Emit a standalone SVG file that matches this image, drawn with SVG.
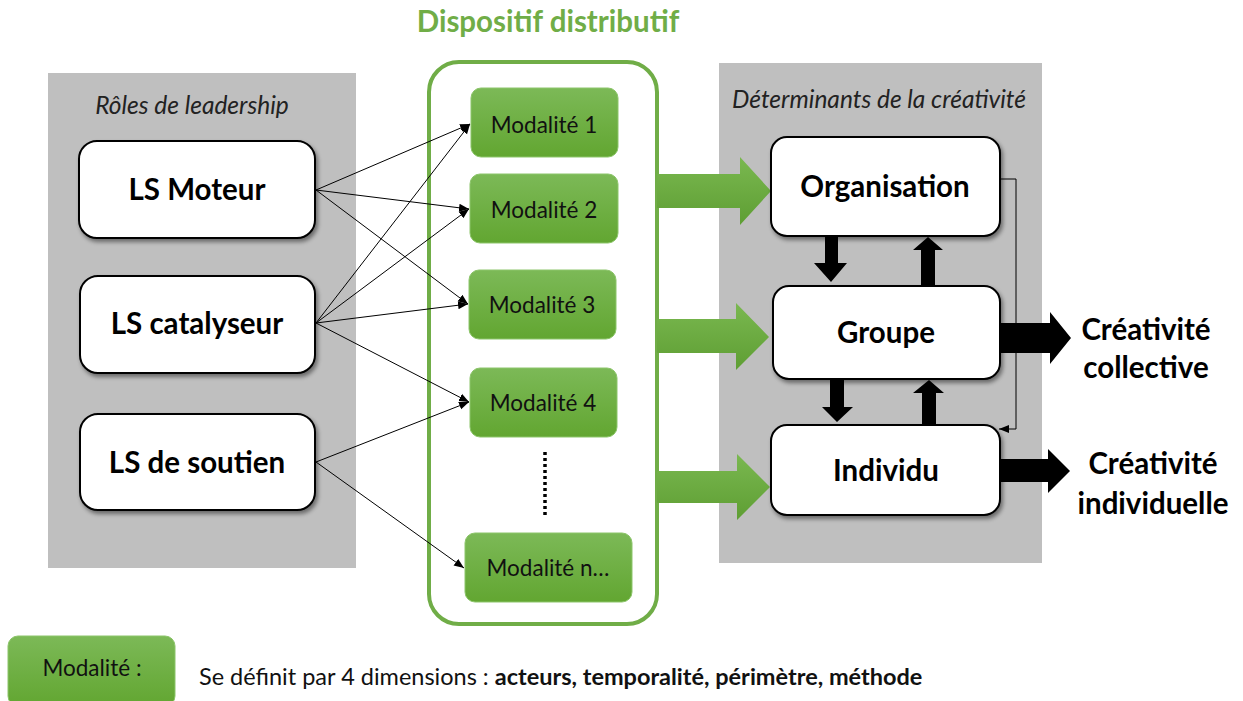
<svg xmlns="http://www.w3.org/2000/svg" width="1243" height="701" viewBox="0 0 1243 701">
<defs>
<style>
.panel{fill:#bfbfbf}
.node{fill:#fff;stroke:#000;stroke-width:2;filter:url(#sh)}
.big{font-family:Lato,"Open Sans",sans-serif;font-weight:bold;font-size:29.5px;fill:#000;text-anchor:middle}
.mod{fill:url(#gg);stroke:#8cc56a;stroke-width:1}
.modt{font-family:Lato,"Open Sans",sans-serif;font-size:22.5px;fill:#111;text-anchor:middle}
.ital{font-family:Lato,"Open Sans",sans-serif;font-style:italic;font-size:24.5px;fill:#222;text-anchor:middle}
.thin{stroke:#000;stroke-width:1;fill:none;marker-end:url(#ah)}
.garrow{fill:url(#ga)}
</style>
<linearGradient id="gg" x1="0" y1="0" x2="0" y2="1">
<stop offset="0" stop-color="#7cb957"/>
<stop offset="1" stop-color="#62a631"/>
</linearGradient>
<linearGradient id="ga" x1="0" y1="0" x2="0" y2="1">
<stop offset="0" stop-color="#7ab850"/>
<stop offset="1" stop-color="#5e9e33"/>
</linearGradient>
<filter id="sh" x="-10%" y="-10%" width="130%" height="140%">
<feDropShadow dx="2" dy="3" stdDeviation="2" flood-color="#000" flood-opacity="0.45"/>
</filter>
<marker id="ah" viewBox="0 0 10 10" refX="10" refY="5" markerWidth="10" markerHeight="10" markerUnits="userSpaceOnUse" orient="auto">
<path d="M0,1 L10,5 L0,9 Z" fill="#000"/>
</marker>
</defs>

<rect class="panel" x="48" y="73" width="308" height="495"/>
<rect class="panel" x="719" y="63" width="323" height="500"/>
<text class="ital" x="192" y="114">Rôles de leadership</text>
<text class="ital" x="879" y="108">Déterminants de la créativité</text>

<text x="548" y="32" font-family="Lato,'Open Sans',sans-serif" font-weight="bold" font-size="29.5" fill="#70ad47" text-anchor="middle">Dispositif distributif</text>
<g id="dispositif">
<rect x="429" y="62" width="228" height="562" rx="30" fill="#fff" stroke="#70ad47" stroke-width="4"/>
</g>

<g id="connectors">
<line class="thin" x1="316" y1="190" x2="470" y2="124"/>
<line class="thin" x1="316" y1="190" x2="469" y2="209"/>
<line class="thin" x1="316" y1="190" x2="468" y2="304"/>
<line class="thin" x1="316" y1="323" x2="470" y2="124"/>
<line class="thin" x1="316" y1="323" x2="469" y2="209"/>
<line class="thin" x1="316" y1="323" x2="468" y2="304"/>
<line class="thin" x1="316" y1="323" x2="469" y2="402"/>
<line class="thin" x1="316" y1="462" x2="469" y2="402"/>
<line class="thin" x1="316" y1="462" x2="464" y2="568"/>
<line x1="545" y1="452" x2="545" y2="516" stroke="#000" stroke-width="3.5" stroke-dasharray="3,3"/>
<path class="garrow" d="M657,174 L740,174 L740,157 L771,191 L740,225 L740,208 L657,208 Z"/>
<path class="garrow" d="M657,319 L736,319 L736,303 L769,337 L736,370 L736,353 L657,353 Z"/>
<path class="garrow" d="M657,471 L737,471 L737,454 L770,487 L737,520 L737,503 L657,503 Z"/>
<path d="M825,236 L838,236 L838,263 L847,263 L831,282 L814,263 L825,263 Z" fill="#000"/>
<path d="M921,286 L935,286 L935,250 L943,250 L928,237 L913,250 L921,250 Z" fill="#000"/>
<path d="M830,379 L844,379 L844,407 L853,407 L837,422 L822,407 L830,407 Z" fill="#000"/>
<path d="M922,425 L936,425 L936,393 L944,393 L929,380 L913,393 L922,393 Z" fill="#000"/>
<polyline points="1000,179 1016,179 1016,429 999,429" fill="none" stroke="#000" stroke-width="1" marker-end="url(#ah)"/>
<path d="M1000,323 L1050,323 L1050,312 L1071,338 L1050,364 L1050,353 L1000,353 Z" fill="#000"/>
<path d="M1000,459 L1048,459 L1048,449 L1070,471 L1048,493 L1048,482 L1000,482 Z" fill="#000"/>
</g>

<g id="ls-moteur"><rect class="node" x="79" y="141" width="236" height="97" rx="18"/><text class="big" x="197" y="200">LS Moteur</text></g>
<g id="ls-catalyseur"><rect class="node" x="80" y="276" width="235" height="97" rx="18"/><text class="big" x="197" y="334">LS catalyseur</text></g>
<g id="ls-soutien"><rect class="node" x="80" y="414" width="235" height="96" rx="18"/><text class="big" x="197" y="473">LS de soutien</text></g>

<g id="modalite-1"><rect class="mod" x="471" y="88" width="147" height="69" rx="10"/><text class="modt" x="544" y="133">Modalité 1</text></g>
<g id="modalite-2"><rect class="mod" x="470" y="174" width="148" height="69" rx="10"/><text class="modt" x="544" y="218">Modalité 2</text></g>
<g id="modalite-3"><rect class="mod" x="469" y="270" width="147" height="69" rx="10"/><text class="modt" x="542" y="313">Modalité 3</text></g>
<g id="modalite-4"><rect class="mod" x="470" y="368" width="147" height="69" rx="10"/><text class="modt" x="543" y="411">Modalité 4</text></g>
<g id="modalite-n"><rect class="mod" x="465" y="533" width="167" height="69" rx="10"/><text class="modt" x="548" y="576">Modalité n…</text></g>

<g id="organisation"><rect class="node" x="771" y="137" width="229" height="99" rx="16"/><text class="big" x="885" y="197">Organisation</text></g>
<g id="groupe"><rect class="node" x="773" y="286" width="227" height="93" rx="16"/><text class="big" x="886" y="343">Groupe</text></g>
<g id="individu"><rect class="node" x="771" y="425" width="229" height="90" rx="16"/><text class="big" x="886" y="481">Individu</text></g>

<g id="creativite-collective"><text class="big" x="1146" y="340">Créativité</text><text class="big" x="1146" y="378">collective</text></g>
<g id="creativite-individuelle"><text class="big" x="1153" y="474">Créativité</text><text class="big" x="1153" y="514">individuelle</text></g>

<g id="legend">
<rect class="mod" x="8" y="636" width="167" height="70" rx="10"/>
<text class="modt" x="92" y="676" font-size="24">Modalité :</text>
<text x="199" y="685" font-family="Lato,'Open Sans',sans-serif" font-size="23.5" fill="#111">Se définit par 4 dimensions : <tspan font-weight="bold">acteurs, temporalité, périmètre, méthode</tspan></text>
</g>
</svg>
